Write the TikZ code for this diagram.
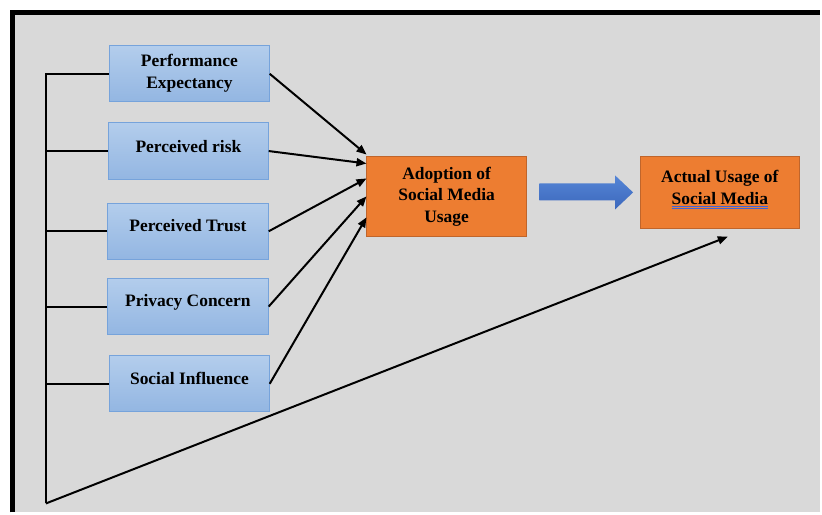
\documentclass[tikz,border=0pt]{standalone}
\usepackage{fontspec}
\setmainfont{Liberation Serif}
\usetikzlibrary{positioning,calc,arrows.meta}

\definecolor{panelgray}{HTML}{D9D9D9}
\definecolor{boxtop}{HTML}{B3CDEC}
\definecolor{boxbot}{HTML}{93B6E2}
\definecolor{boxedge}{HTML}{76A3DB}
\definecolor{orangefill}{HTML}{ED7D31}
\definecolor{orangeedge}{HTML}{C0652B}
\definecolor{arrowtop}{HTML}{5585D6}
\definecolor{arrowbot}{HTML}{3C68BC}
\definecolor{ulblue}{HTML}{3F63D8}

\tikzset{
    factor/.style={draw=boxedge, line width=1pt, top color=boxtop, bottom color=boxbot,
        minimum width=160, minimum height=56, inner sep=0pt},
    outcome/.style={draw=orangeedge, line width=0.8pt, fill=orangefill,
        minimum width=160, inner sep=0pt},
    lbl/.style={font=\fontsize{17.5}{21.5}\selectfont\bfseries, align=center, inner sep=0pt},
    link/.style={line width=2pt},
    effect/.style={link, -{Triangle[length=10pt,width=8pt]}},
}

\begin{document}
\begin{tikzpicture}[x=1pt, y=-1pt]

    % Page and panel
    \fill[white] (0,0) rectangle (822,514);
    \fill[panelgray] (12,12) rectangle (822,514);
    \draw[line width=5pt] (12.5,514) -- (12.5,12.5) -- (822,12.5);

    % Factor boxes
    \node[factor] (pe) at (190,74) {};
    \node[factor, minimum height=57] (pr) at (189,151.5) {};
    \node[factor, minimum width=161] (pt) at (188.5,232) {};
    \node[factor, minimum width=161, minimum height=57] (pc) at (188.5,307.5) {};
    \node[factor] (si) at (190,385) {};

    \node[lbl] (pet) at ($(pe.north)+(0,28)$) {Performance\\Expectancy};
    \node[lbl] (prt) at ($(pr.north)+(0,24)$) {Perceived risk};
    \node[lbl] (ptt) at ($(pt.north)+(0,23)$) {Perceived Trust};
    \node[lbl] (pct) at ($(pc.north)+(0,25)$) {Privacy Concern};
    \node[lbl] (sit) at ($(si.north)+(0,23)$) {Social Influence};

    % Outcome boxes
    \node[outcome, minimum height=80] (ad) at (448,197) {};
    \node[outcome, minimum height=72] (au) at (722,193) {};

    \node[lbl] (adt) at ($(ad)+(0,0)$) {Adoption of\\Social Media\\Usage};
    \node[lbl] (aut) at ($(au)+(0,-3)$) {Actual Usage of\\\textcolor{ulblue}{$\underline{\underline{\hbox{\color{black}Social Media}}}$}};

    % Block arrow
    \path[top color=arrowtop, bottom color=arrowbot]
        (541,184) -- (617,184) -- (617,176) -- (635,193) -- (617,210) -- (617,201) -- (541,201) -- cycle;

    % Factors into adoption
    \draw[effect] (pe.east) -- ($(ad.west)+(0,-42)$);
    \draw[effect] (pr.east) -- ($(ad.west)+(0,-33)$);
    \draw[effect] (pt.east) -- ($(ad.west)+(0,-18)$);
    \draw[effect] (pc.east) -- ($(ad.west)+(0,0)$);
    \draw[effect] (si.east) -- ($(ad.west)+(0,21)$);

    % Bus on the left
    \coordinate (busend) at (46,505);
    \draw[link, line join=miter] (pe.west) -| (busend);
    \foreach \b in {pr,pt,pc,si}
        \draw[link] (\b.west) -- (\b.west -| busend);

    % Direct path to actual usage
    \coordinate (autip) at ($(au.south)+(8,8)$);
    \draw[effect] (busend) -- (autip);

\end{tikzpicture}
\end{document}
